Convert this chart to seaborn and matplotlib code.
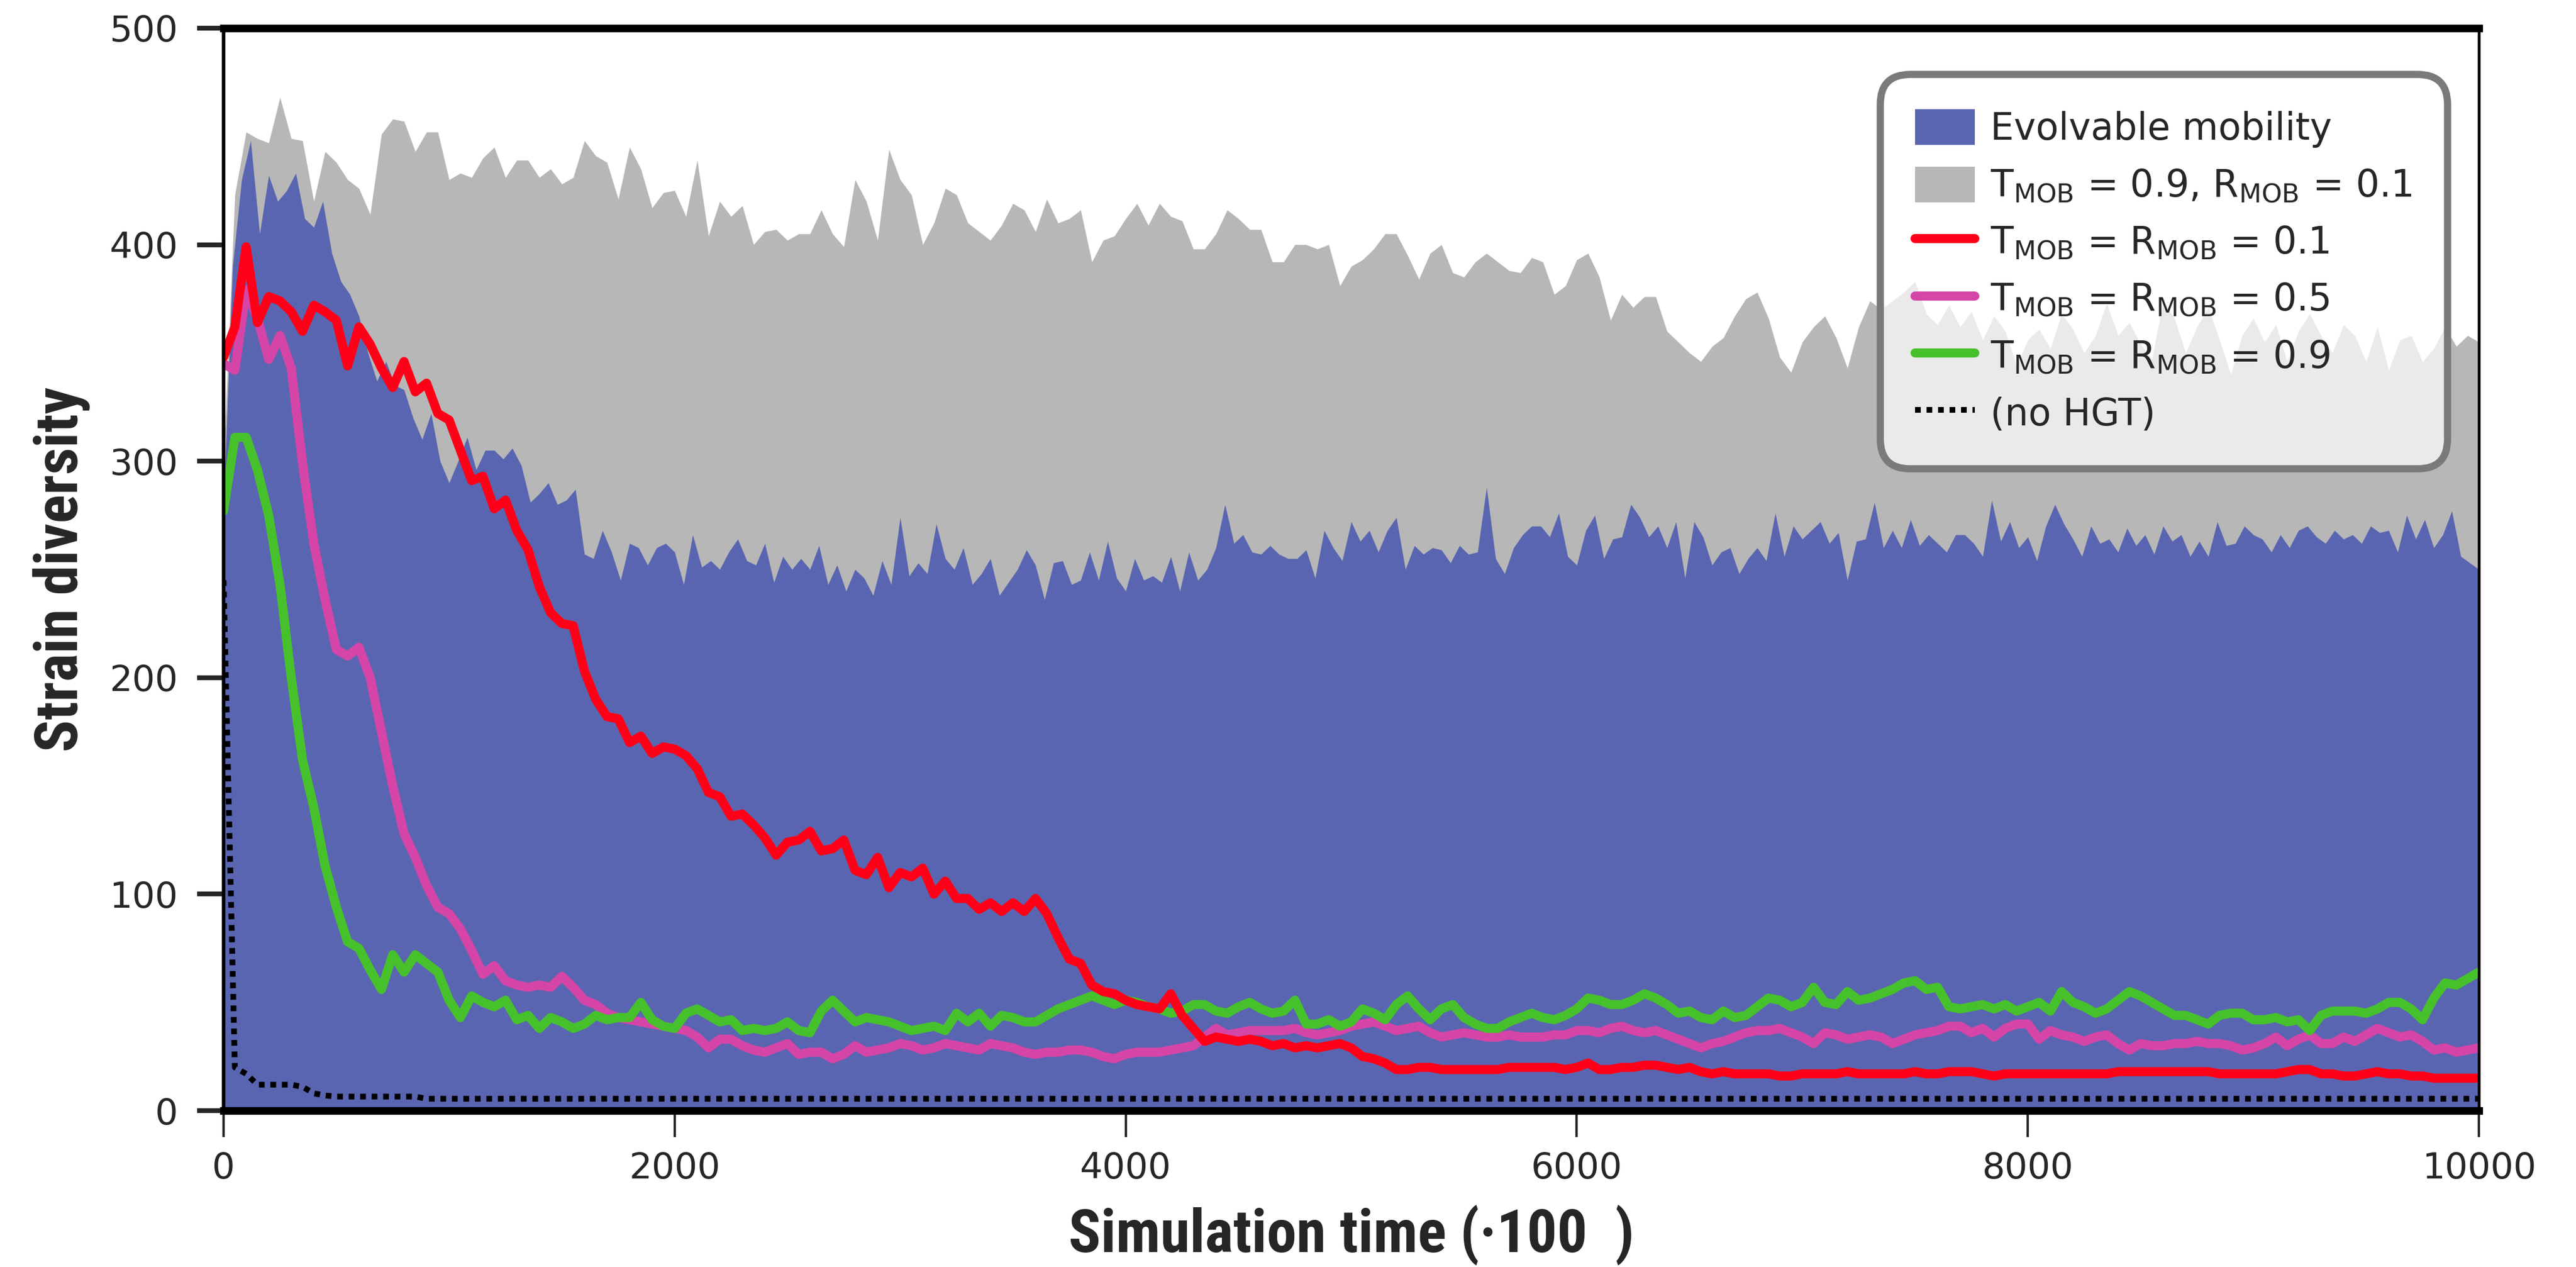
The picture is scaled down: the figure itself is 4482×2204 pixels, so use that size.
import numpy as np
import matplotlib
matplotlib.use("Agg")
import matplotlib.pyplot as plt
import seaborn as sb

# values
time_50 = np.arange(0, 10001, 50)
time_40 = np.arange(0, 10001, 40)

fixed_mob = [300, 423, 452, 449, 447, 468, 449, 448, 420, 443,
             438, 430, 426, 414, 451, 458, 457, 443, 452, 452,
             430, 433, 431, 440, 445, 431, 439, 439, 431, 435,
             428, 431, 448, 441, 438, 421, 445, 435, 417, 424,
             425, 413, 439, 404, 420, 413, 418, 400, 406, 407,
             402, 405, 405, 416, 405, 399, 430, 420, 402, 444,
             430, 423, 400, 410, 426, 423, 410, 406, 402, 409,
             419, 416, 406, 421, 410, 412, 416, 392, 402, 404,
             412, 419, 409, 419, 413, 411, 398, 398, 405, 416,
             412, 407, 407, 392, 392, 400, 400, 398, 400, 381,
             390, 393, 398, 405, 405, 395, 384, 396, 400, 387,
             385, 392, 396, 392, 388, 387, 394, 392, 377, 381,
             393, 396, 385, 365, 377, 371, 376, 376, 360, 355,
             350, 346, 353, 357, 367, 375, 378, 366, 348, 341,
             355, 362, 367, 357, 343, 362, 374, 370, 374, 378,
             383, 368, 363, 372, 362, 369, 356, 367, 360, 344,
             356, 361, 352, 368, 361, 350, 358, 373, 358, 364,
             354, 347, 374, 366, 350, 362, 371, 356, 340, 358,
             366, 355, 363, 346, 360, 368, 358, 350, 363, 358,
             346, 362, 342, 356, 358, 346, 352, 362, 353, 358,
             355]

evolvable = [280, 390, 430, 448, 405, 432, 420, 425, 433, 412,
             408, 420, 396, 383, 377, 367, 350, 337, 346, 335,
             333, 320, 310, 322, 300, 290, 300, 311, 296, 305,
             305, 301, 306, 298, 281, 285, 290, 280, 282, 287,
             257, 255, 268, 258, 245, 262, 260, 252, 260, 262,
             258, 243, 266, 251, 254, 250, 258, 264, 254, 252,
             262, 244, 256, 250,
             255, 250, 261, 243, 252, 240, 250, 246, 238, 254,
             243, 274, 247, 253, 248, 271, 255, 250, 260, 243,
             248, 255, 238, 244, 250, 259, 252, 236, 253, 254,
             243, 245, 258, 245, 263, 246, 240, 255, 245, 247,
             244, 256, 240, 258, 245, 250, 260, 280, 262, 266,
             258, 257, 261, 257, 255, 255, 259, 246, 268, 260,
             254, 272, 263,
             268, 258, 268, 274, 250, 261, 257, 260, 259, 253,
             261, 257, 258, 288, 255, 248, 260, 266, 270, 270,
             265, 276, 256, 252, 268, 275, 255, 264, 265, 280,
             274, 265, 270, 260, 272, 246, 272, 265, 252, 258,
             260, 248, 255, 260, 254, 276, 256, 270, 264, 268,
             272, 262, 267, 245, 263, 264, 281, 260, 268, 260,
             273, 261, 266,
             262, 258, 266, 266, 262, 256, 282, 263, 272, 260,
             265, 254, 270, 280, 271, 264, 256, 270, 262, 264,
             258, 269, 261, 266, 257, 270, 263, 266, 256, 263,
             256, 272, 261, 262, 270, 266, 264, 258, 266, 260,
             268, 270, 265, 262, 268, 264, 266, 262, 270, 267,
             268, 258, 275, 264, 273, 260, 266, 277, 256, 253,
             250]

mob_01 = [348, 362, 399, 364, 376, 374, 369, 360, 372, 369,
          365, 344, 362, 354, 343, 334, 346, 332, 336, 322,
          319, 305, 291, 293, 278, 282, 268, 259, 242, 230,
          225, 224, 203, 190, 182, 181, 170, 173, 165, 168,
          167, 164, 158, 147, 145, 136, 137, 132, 126, 118,
          124, 125, 129, 120, 121, 125, 111, 109, 117, 103,
          110, 108, 112, 100, 106, 98, 98, 93, 96, 92,
          96, 92, 98, 91, 80, 70, 68, 58, 55, 54,
          51, 49, 48, 47, 54, 44, 38, 32, 34, 33,
          32, 33, 32, 30, 31, 29, 30, 29, 30, 31,
          29, 25, 24, 22, 19, 19, 20, 20, 19, 19,
          19, 19, 19, 19, 20, 20, 20, 20, 20, 19,
          20, 22, 19, 19, 20, 20, 21, 21, 20, 19,
          20, 18, 17, 18, 17, 17, 17, 17, 16, 16,
          17, 17, 17, 17, 18, 17, 17, 17, 17, 17,
          18, 17, 17, 18, 18, 18, 17, 16, 17, 17,
          17, 17, 17, 17, 17, 17, 17, 17, 18, 18,
          18, 18, 18, 18, 18, 18, 18, 17, 17, 17,
          17, 17, 17, 18, 19, 19, 17, 17, 16, 16,
          17, 18, 17, 17, 16, 16, 15, 15, 15, 15,
          15]

mob_05 = [345, 342, 379, 366, 347, 358, 343, 299, 262, 236,
          213, 210, 214, 200, 175, 150, 128, 117, 104, 94,
          91, 84, 74, 63, 67, 60, 58, 57, 58, 57,
          62, 57, 51, 49, 45, 43, 42, 41, 40, 39,
          38, 37, 34, 29, 33, 33, 30, 28, 27, 29,
          31, 26, 27, 27, 24, 26, 30, 27, 28, 29,
          31, 30, 28, 29, 31, 30, 29, 28, 31, 30,
          29, 27, 26, 27, 27, 28, 28, 27, 25, 24,
          26, 27, 27, 27, 28, 29, 30, 34, 38, 35,
          36, 37, 37, 37, 37, 38, 36, 35, 36, 37,
          39, 40, 41, 39, 37, 38, 39, 36, 34, 35,
          36, 35, 34, 34, 35, 34, 34, 34, 35, 35,
          37, 37, 36, 38, 39, 37, 36, 37, 35, 33,
          31, 29, 31, 32, 34, 36, 37, 37, 38, 36,
          34, 31, 36, 35, 33, 34, 35, 34, 31, 33,
          35, 36, 37, 39, 39, 36, 38, 34, 38, 40,
          40, 33, 37, 35, 34, 32, 34, 35, 31, 28,
          31, 30, 30, 31, 31, 32, 31, 31, 30, 28,
          29, 31, 34, 30, 33, 35, 31, 31, 34, 32,
          35, 38, 36, 34, 35, 32, 28, 29, 27, 28,
          29]

mob_09 = [277, 311, 311, 296, 275, 243, 200, 162, 140, 113,
          94, 78, 75, 65, 56, 72, 64, 72, 68, 64,
          51, 43, 53, 50, 48, 51, 42, 44, 38, 43,
          41, 38, 40, 44, 42, 43, 43, 50, 42, 39,
          38, 45, 47, 44, 41, 42, 37, 38, 37, 38,
          41, 37, 36, 46, 51, 46, 41, 43, 42, 41,
          39, 37, 38, 39, 37, 45, 41, 45, 39, 44,
          43, 41, 41, 44, 47, 49, 51, 53, 51, 49,
          51, 50, 48, 47, 45, 46, 49, 49, 46, 45,
          48, 50, 47, 45, 46, 51, 40, 40, 42, 39,
          41, 47, 45, 42, 49, 53, 47, 42, 47, 49,
          43, 40, 38, 38, 41, 43, 45, 43, 42, 44,
          47, 52, 51, 49, 49, 51, 54, 52, 49, 45,
          46, 43, 42, 46, 43, 44, 48, 52, 51, 48,
          50, 57, 50, 49, 55, 51, 52, 54, 56, 59,
          60, 56, 57, 48, 47, 48, 49, 47, 49, 46,
          48, 50, 46, 55, 50, 48, 45, 47, 51, 55,
          53, 50, 47, 44, 44, 42, 40, 44, 45, 45,
          42, 42, 43, 41, 42, 37, 44, 46, 46, 46,
          45, 47, 50, 50, 47, 42, 52, 59, 58, 61,
          64]

no_hgt = [245, 20, 17, 12, 12, 12, 12, 11, 8, 7] + [6.5] * 8 + [5.5] * 183

BLUE = "#5a65b1"
GREY = "#b7b7b7"
RED = "#ff0018"
PINK = "#d545a7"
GREEN = "#46c12c"

sb.set_style("ticks")
plt.rcParams["font.family"] = ["DejaVu Sans"]
plt.rcParams["mathtext.fontset"] = "dejavusans"

fig, ax = plt.subplots(figsize=(4482 / 300, 2204 / 300), dpi=300)
ax.set_position([0.0868, 0.1234, 0.8755, 0.8544])

# grey run behind, evolvable run in front
grey_area = ax.fill_between(time_50, fixed_mob, color=GREY, lw=0, zorder=1)
blue_area = ax.fill_between(time_40, evolvable, color=BLUE, lw=0, zorder=2)

line_kw = dict(lw=3.8, solid_joinstyle="round", ax=ax, legend=False)
sb.lineplot(x=time_50, y=mob_05, color=PINK, zorder=4, **line_kw)
pink_line = ax.lines[-1]
sb.lineplot(x=time_50, y=mob_09, color=GREEN, zorder=5, **line_kw)
green_line = ax.lines[-1]
sb.lineplot(x=time_50, y=mob_01, color=RED, zorder=6, **line_kw)
red_line = ax.lines[-1]
sb.lineplot(x=time_50, y=no_hgt, color="black", lw=2.4, ax=ax, legend=False,
            linestyle=(0, (1, 1)), dash_capstyle="butt", zorder=7)
dot_line = ax.lines[-1]

ax.set_xlim(0, 10000)
ax.set_ylim(0, 500)
ax.set_xticks(range(0, 10001, 2000))
ax.set_yticks(range(0, 501, 100))

for side, w in [("top", 3.2), ("bottom", 3.2), ("left", 1.5), ("right", 1.2)]:
    ax.spines[side].set_visible(True)
    ax.spines[side].set_linewidth(w)
    ax.spines[side].set_color("black")
    ax.spines[side].set_zorder(10)

ax.tick_params(axis="y", length=11, width=2, pad=8, labelsize=15, direction="out")
ax.tick_params(axis="x", length=11, width=1, pad=6, labelsize=15, direction="out")

label_font = dict(family=["Roboto Condensed", "Liberation Sans Narrow", "DejaVu Sans"],
                  weight="bold", size=25)
ax.set_xlabel("Simulation time (\u00b7100  )", labelpad=8, **label_font)
ax.set_ylabel("Strain diversity", labelpad=8, **label_font)

labels = ["Evolvable mobility",
          r"T$_{\rm MOB}$ = 0.9, R$_{\rm MOB}$ = 0.1",
          r"T$_{\rm MOB}$ = R$_{\rm MOB}$ = 0.1",
          r"T$_{\rm MOB}$ = R$_{\rm MOB}$ = 0.5",
          r"T$_{\rm MOB}$ = R$_{\rm MOB}$ = 0.9",
          "(no HGT)"]
handles = [blue_area, grey_area, red_line, pink_line, green_line, dot_line]
leg = ax.legend(handles, labels, loc="upper right", bbox_to_anchor=(0.986, 0.9575),
                fontsize=15.5, frameon=True, fancybox=True, handlelength=1.6,
                handleheight=1.1, handletextpad=0.42, labelspacing=0.5,
                borderpad=0.95, borderaxespad=0)
frame = leg.get_frame()
frame.set_alpha(None)
frame.set_facecolor((1, 1, 1, 0.72))
frame.set_edgecolor("#7a7a7a")
frame.set_linewidth(3)
frame.set_boxstyle("round", pad=0, rounding_size=0.8)
leg.set_zorder(20)

plt.savefig("out.png", dpi=300)
